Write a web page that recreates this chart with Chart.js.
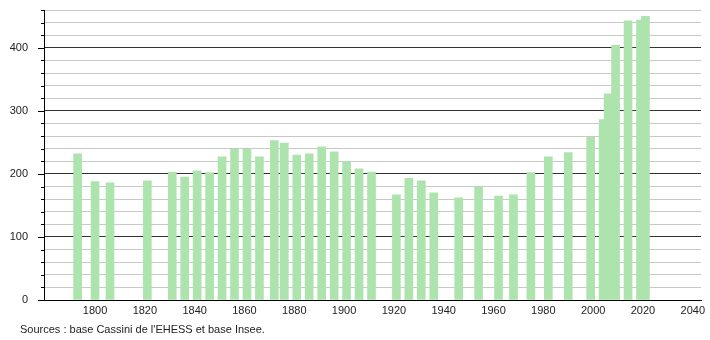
<!DOCTYPE html>
<html>
<head>
<meta charset="utf-8">
<script src="https://cdn.jsdelivr.net/npm/chart.js@4/dist/chart.umd.min.js"></script>
<style>
  html, body { margin: 0; padding: 0; background: #fff; }
  #wrap { position: relative; width: 710px; height: 340px; }
  #source { position: absolute; left: 20px; top: 323px; font: 11px "Liberation Sans", Arial, sans-serif; color: #222; }
</style>
</head>
<body>
<div id="wrap">
  <canvas id="chart" width="710" height="340"></canvas>
  <div id="source">Sources : base Cassini de l'EHESS et base Insee.</div>
</div>
<script>
// census years and population
const years = [1793, 1800, 1806, 1821, 1831, 1836, 1841, 1846, 1851, 1856, 1861, 1866,
  1872, 1876, 1881, 1886, 1891, 1896, 1901, 1906, 1911, 1921, 1926, 1931, 1936,
  1946, 1954, 1962, 1968, 1975, 1982, 1990, 1999, 2004, 2006, 2009, 2014, 2019, 2021];
const population = [232, 188, 186, 189, 203, 195, 205, 202, 227, 239, 239, 227,
  253, 249, 230, 232, 243, 235, 219, 208, 203, 167, 193, 189, 170,
  162, 179, 165, 167, 202, 227, 234, 258, 286, 327, 404, 443, 444, 450];
const xTicks = [1800, 1820, 1840, 1860, 1880, 1900, 1920, 1940, 1960, 1980, 2000, 2020, 2040];
const yTicks = [0, 100, 200, 300, 400];

const font = { family: '"Liberation Sans", Arial, sans-serif', size: 11 };

// small tick marks on the left of the y axis (long for hundreds, short otherwise)
const yTickMarks = {
  id: 'yTickMarks',
  afterDraw(chart) {
    const ctx = chart.ctx, y = chart.scales.y;
    ctx.save();
    ctx.strokeStyle = '#000';
    ctx.lineWidth = 1;
    for (let v = 0; v <= 460; v += 20) {
      const py = Math.round(y.getPixelForValue(v)) + 0.5;
      const len = v % 100 === 0 ? 6 : 3;
      ctx.beginPath();
      ctx.moveTo(y.right - len, py);
      ctx.lineTo(y.right, py);
      ctx.stroke();
    }
    ctx.restore();
  }
};

new Chart(document.getElementById('chart'), {
  type: 'bar',
  data: {
    datasets: [{
      data: years.map((yr, i) => ({ x: yr, y: population[i] })),
      backgroundColor: 'rgb(173, 228, 173)',
      borderWidth: 0,
      barThickness: 8
    }]
  },
  options: {
    responsive: false,
    animation: false,
    layout: { padding: { left: 0, right: 9, top: 10, bottom: 20 } },
    plugins: { legend: { display: false }, tooltip: { enabled: false } },
    scales: {
      x: {
        type: 'linear',
        offset: false,
        min: 1779.5,
        max: 2043.3,
        afterBuildTicks: s => { s.ticks = xTicks.map(v => ({ value: v })); },
        afterFit: s => { s.height = 20; },
        grid: { display: false, drawTicks: false },
        border: { color: '#000', width: 1 },
        ticks: { font, color: '#222', padding: 4, maxRotation: 0, autoSkip: false, callback: v => String(v) }
      },
      y: {
        min: 0,
        max: 460,
        afterBuildTicks: s => {
          const t = [];
          for (let v = 0; v <= 460; v += 20) t.push({ value: v });
          s.ticks = t;
        },
        afterFit: s => { s.width = 44; s.paddingTop = 0; },
        grid: {
          drawTicks: false,
          color: c => (c.tick && c.tick.value % 100 === 0) ? '#333' : '#c8c8c8'
        },
        border: { color: '#000', width: 1 },
        ticks: {
          font, color: '#222', padding: 16, autoSkip: false,
          callback: v => yTicks.includes(v) ? String(v) : ''
        }
      }
    }
  },
  plugins: [yTickMarks]
});
</script>
</body>
</html>
